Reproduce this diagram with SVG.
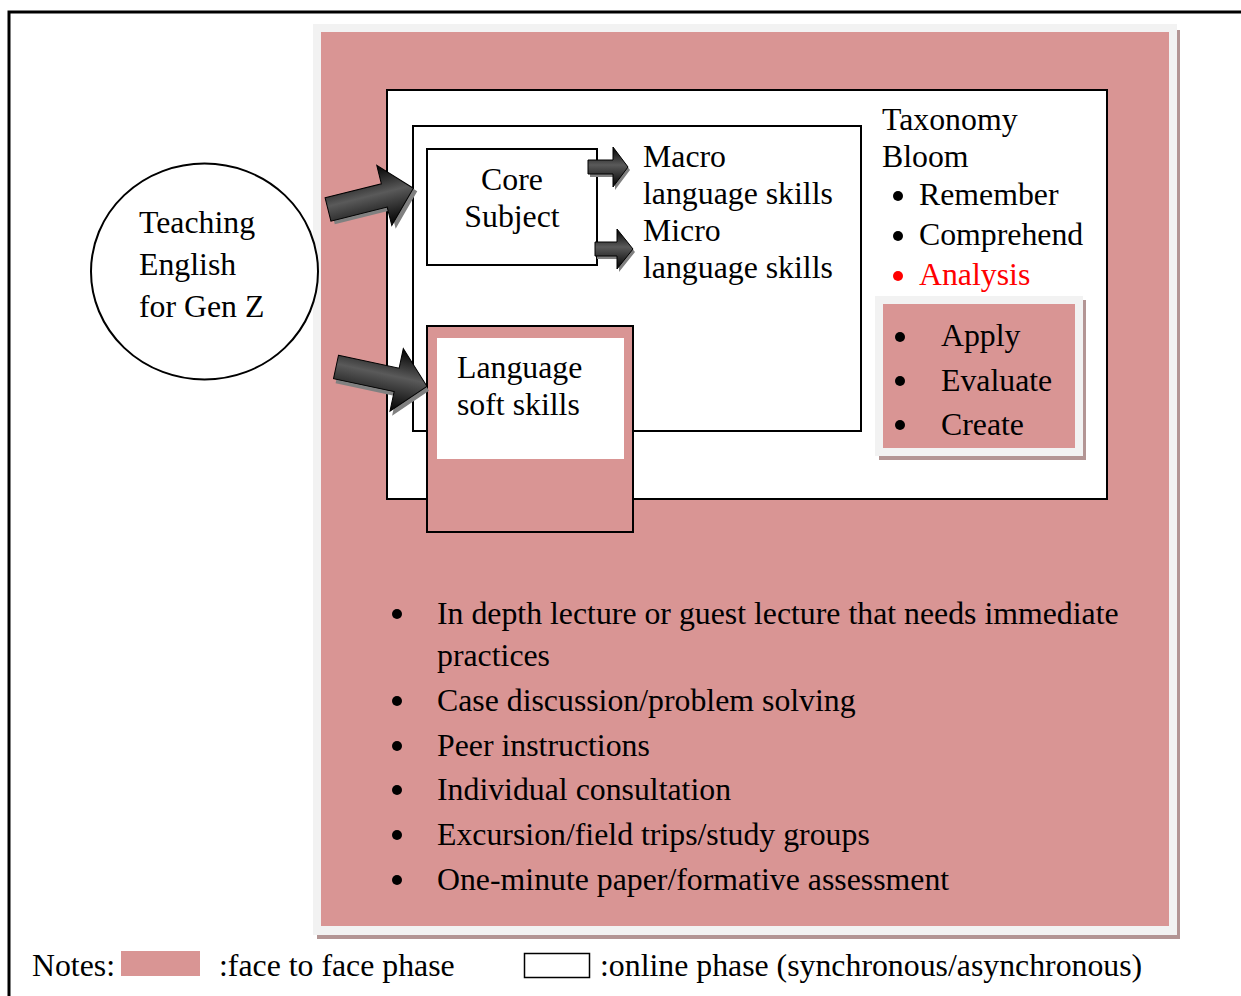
<svg xmlns="http://www.w3.org/2000/svg" width="1241" height="996" viewBox="0 0 1241 996">
<style>
text{font-family:"Liberation Serif","Times New Roman",serif;font-size:31.8px;fill:#000}
.red{fill:#ff0000}
.pink{fill:#d99594}
.frame{fill:#f2f2f2}
.shadow{fill:#b39594}
.box{fill:#fff;stroke:#000;stroke-width:2}
.bul{fill:#000}
.arr{fill:url(#ag)}
.arrs{fill:#808080}
</style>
<defs>
<linearGradient id="ag" x1="0" y1="0" x2="0" y2="1">
<stop offset="0" stop-color="#000"/>
<stop offset="0.45" stop-color="#5a5a5a"/>
<stop offset="1" stop-color="#000"/>
</linearGradient>
</defs>
<g id="page">
<path d="M9,996 V12 H1241" fill="none" stroke="#000" stroke-width="3"/>
</g>
<g id="face-to-face">
<rect class="shadow" x="317" y="30" width="863" height="909"/>
<rect class="frame" x="313" y="24" width="864" height="911"/>
<rect class="pink" x="321" y="32" width="848" height="894"/>
</g>
<g id="online">
<rect class="box" x="387" y="90" width="720" height="409"/>
</g>
<g id="inner">
<rect class="box" x="413" y="126" width="448" height="305"/>
</g>
<g id="core-subject">
<rect class="box" x="427" y="149" width="170" height="116"/>
<text x="512" y="190" text-anchor="middle">Core</text>
<text x="512" y="227" text-anchor="middle">Subject</text>
</g>
<g id="soft-skills">
<rect x="427" y="326" width="206" height="206" fill="#d99594" stroke="#000" stroke-width="2"/>
<rect x="437" y="338" width="187" height="121" fill="#fff"/>
<text x="457" y="378">Language</text>
<text x="457" y="415">soft skills</text>
</g>
<g id="skills">
<text x="643" y="167">Macro</text>
<text x="643" y="204">language skills</text>
<text x="643" y="241">Micro</text>
<text x="643" y="278">language skills</text>
</g>
<g id="taxonomy">
<text x="882" y="130">Taxonomy</text>
<text x="882" y="167">Bloom</text>
<circle class="bul" cx="898" cy="196" r="5"/>
<text x="919" y="205">Remember</text>
<circle class="bul" cx="898" cy="236" r="5"/>
<text x="919" y="245">Comprehend</text>
<circle cx="898" cy="276" r="5" fill="#ff0000"/>
<text class="red" x="919" y="285">Analysis</text>
</g>
<g id="higher-order">
<rect class="shadow" x="879" y="300" width="207" height="160"/>
<rect class="frame" x="875" y="296" width="208" height="160"/>
<rect class="pink" x="883" y="304" width="192" height="144"/>
<circle class="bul" cx="900" cy="337" r="5"/>
<text x="941" y="346">Apply</text>
<circle class="bul" cx="900" cy="381" r="5"/>
<text x="941" y="391">Evaluate</text>
<circle class="bul" cx="900" cy="425" r="5"/>
<text x="941" y="435">Create</text>
</g>
<g id="teaching">
<ellipse cx="204.5" cy="271.5" rx="113.5" ry="108" fill="#fff" stroke="#000" stroke-width="2"/>
<text x="139" y="233">Teaching</text>
<text x="139" y="275">English</text>
<text x="139" y="317">for Gen Z</text>
</g>
<g id="activities">
<circle class="bul" cx="397" cy="614" r="5"/>
<text x="437" y="624">In depth lecture or guest lecture that needs immediate</text>
<text x="437" y="666">practices</text>
<circle class="bul" cx="397" cy="701" r="5"/>
<text x="437" y="711">Case discussion/problem solving</text>
<circle class="bul" cx="397" cy="746" r="5"/>
<text x="437" y="756">Peer instructions</text>
<circle class="bul" cx="397" cy="790" r="5"/>
<text x="437" y="800">Individual consultation</text>
<circle class="bul" cx="397" cy="835" r="5"/>
<text x="437" y="845">Excursion/field trips/study groups</text>
<circle class="bul" cx="397" cy="880" r="5"/>
<text x="437" y="890">One-minute paper/formative assessment</text>
</g>
<g id="connectors">
<g transform="translate(328,209.5) rotate(-14)">
<path class="arrs" transform="translate(3,4)" d="M0,-12 L58,-12 L58,-31 L88,0 L58,31 L58,12 L0,12 Z"/>
<path class="arr" d="M0,-12 L58,-12 L58,-31 L88,0 L58,31 L58,12 L0,12 Z" stroke="#000" stroke-width="1"/>
</g>
<g transform="translate(336,367) rotate(12)">
<path class="arrs" transform="translate(3,4)" d="M0,-12 L62,-12 L62,-32 L93,0 L62,32 L62,12 L0,12 Z"/>
<path class="arr" d="M0,-12 L62,-12 L62,-32 L93,0 L62,32 L62,12 L0,12 Z" stroke="#000" stroke-width="1"/>
</g>
<g transform="translate(588,167)">
<path class="arrs" transform="translate(2,3)" d="M0,-7 L25,-7 L25,-20 L40,0 L25,20 L25,7 L0,7 Z"/>
<path class="arr" d="M0,-7 L25,-7 L25,-20 L40,0 L25,20 L25,7 L0,7 Z" stroke="#000" stroke-width="1"/>
</g>
<g transform="translate(595,249)">
<path class="arrs" transform="translate(2,3)" d="M0,-7 L22,-7 L22,-20 L38,0 L22,20 L22,7 L0,7 Z"/>
<path class="arr" d="M0,-7 L22,-7 L22,-20 L38,0 L22,20 L22,7 L0,7 Z" stroke="#000" stroke-width="1"/>
</g>
</g>
<g id="legend">
<text x="32" y="976">Notes:</text>
<rect class="pink" x="121" y="951" width="79" height="25"/>
<text x="219" y="976">:face to face phase</text>
<rect x="524.5" y="953.5" width="65" height="24" fill="#fff" stroke="#000" stroke-width="1.5"/>
<text x="600" y="976">:online phase (synchronous/asynchronous)</text>
</g>
</svg>
